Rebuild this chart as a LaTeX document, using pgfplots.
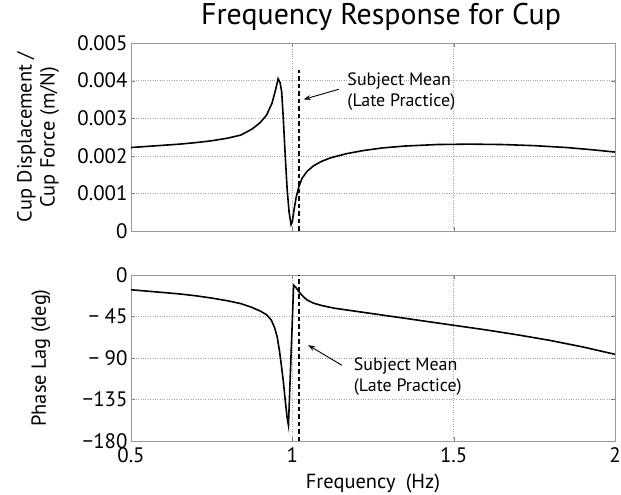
\documentclass[border=0pt]{standalone}
\usepackage{fontspec}
\setmainfont{PT Sans}
\usepackage{pgfplots}
\pgfplotsset{compat=1.18}
\usetikzlibrary{arrows.meta}
\pgfplotsset{
  mystyle/.style={
    scale only axis, width=484bp, xmin=0.5, xmax=2,
    axis line style={black!40}, tick style={black!50},
    major tick length=4bp,
    grid=major, grid style={dotted, black!35},
    tick label style={font=\fontsize{21}{24}\selectfont},
    label style={font=\fontsize{20.5}{23}\selectfont},
    /pgf/number format/assume math mode=true,
    scaled y ticks=false, scaled x ticks=false,
    xtick={0.5,1,1.5,2},
    clip=false,
  }
}
\begin{document}
\begin{tikzpicture}
\begin{axis}[mystyle, name=top, at={(0,0)}, anchor=south west,
  height=188bp, ymin=0, ymax=0.005,
  ytick={0,0.001,0.002,0.003,0.004,0.005},
  yticklabels={0,0.001,0.002,0.003,0.004,0.005},
  xticklabels={},
  title={Frequency Response for Cup},
  title style={font=\fontsize{30}{34}\selectfont, at={(axis description cs:0.5,1)}, anchor=center, yshift=20bp, xshift=8bp},
  ylabel={Cup Displacement /\\Cup Force (m/N)},
  ylabel style={at={(axis description cs:-0.192,0.5)}, anchor=center, align=center},
]
\addplot[black, line width=1.6bp] coordinates {
(0.50,0.00222) (0.55,0.00225) (0.60,0.00228) (0.65,0.00231) (0.70,0.00235)
(0.75,0.00240) (0.80,0.00247) (0.84,0.00255) (0.875,0.00271) (0.90,0.00288)
(0.92,0.00308) (0.937,0.00340) (0.948,0.00375) (0.956,0.00405) (0.962,0.00395)
(0.967,0.00370) (0.972,0.00300) (0.978,0.00200) (0.984,0.00110) (0.990,0.00050)
(0.996,0.00017) (1.000,0.00025) (1.005,0.00055) (1.012,0.00090) (1.020,0.00117)
(1.030,0.00140) (1.045,0.00158) (1.065,0.00173) (1.09,0.00185) (1.12,0.00195)
(1.17,0.00206) (1.22,0.00214) (1.28,0.00221) (1.35,0.00226) (1.45,0.00230)
(1.55,0.00231) (1.65,0.00230) (1.75,0.00227) (1.85,0.00222) (1.93,0.00216)
(2.00,0.00210)
};
\addplot[black, dash pattern=on 4.5bp off 3bp, line width=1.5bp] coordinates {(1.02,0) (1.02,0.00428)};
\node[anchor=west, font=\fontsize{18}{21}\selectfont, align=left] at (axis cs:1.16,0.00372) {Subject Mean\\(Late Practice)};
\draw[-{Stealth[length=7bp,width=5bp]}, line width=0.9bp] (axis cs:1.144,0.00377) -- (axis cs:1.035,0.0035);
\end{axis}
\begin{axis}[mystyle, name=bot, at={(0,-44bp)}, anchor=north west,
  height=166bp, ymin=-180, ymax=0,
  ytick={-180,-135,-90,-45,0},
  yticklabels={−180,−135,− 90,− 45,0},
  xticklabels={0.5,1,1.5,2},
  xticklabel style={yshift=-3bp},
  xlabel={Frequency\enspace(Hz)},
  xlabel style={at={(axis description cs:0.5,0)}, anchor=center, yshift=-42bp},
  ylabel={Phase Lag (deg)},
  ylabel style={at={(axis description cs:-0.186,0.5)}, anchor=center},
]
\addplot[black, line width=1.6bp] coordinates {
(0.50,-16) (0.55,-17.5) (0.60,-19) (0.65,-20.5) (0.70,-22.5) (0.75,-25)
(0.80,-28) (0.84,-31) (0.87,-34.5) (0.90,-39) (0.92,-43) (0.935,-49)
(0.945,-57) (0.953,-67) (0.960,-82) (0.965,-95) (0.972,-115) (0.978,-136)
(0.984,-155) (0.988,-163) (0.996,-87) (1.004,-11) (1.010,-13) (1.020,-18)
(1.030,-22) (1.045,-27) (1.065,-30.5) (1.09,-33) (1.13,-36) (1.17,-38)
(1.25,-42) (1.40,-49.5) (1.50,-54.5) (1.60,-59.5) (1.70,-65) (1.80,-71)
(1.90,-78) (2.00,-86)
};
\addplot[black, dash pattern=on 4.5bp off 3bp, line width=1.5bp] coordinates {(1.02,-180) (1.02,0)};
\node[anchor=west, font=\fontsize{18}{21}\selectfont, align=left] at (axis cs:1.18,-110) {Subject Mean\\(Late Practice)};
\draw[-{Stealth[length=7bp,width=5bp]}, line width=0.9bp] (axis cs:1.154,-98) -- (axis cs:1.049,-76);
\end{axis}
\pgfresetboundingbox
\path (-131bp,-264bp) rectangle (490bp,231bp);
\end{tikzpicture}
\end{document}
